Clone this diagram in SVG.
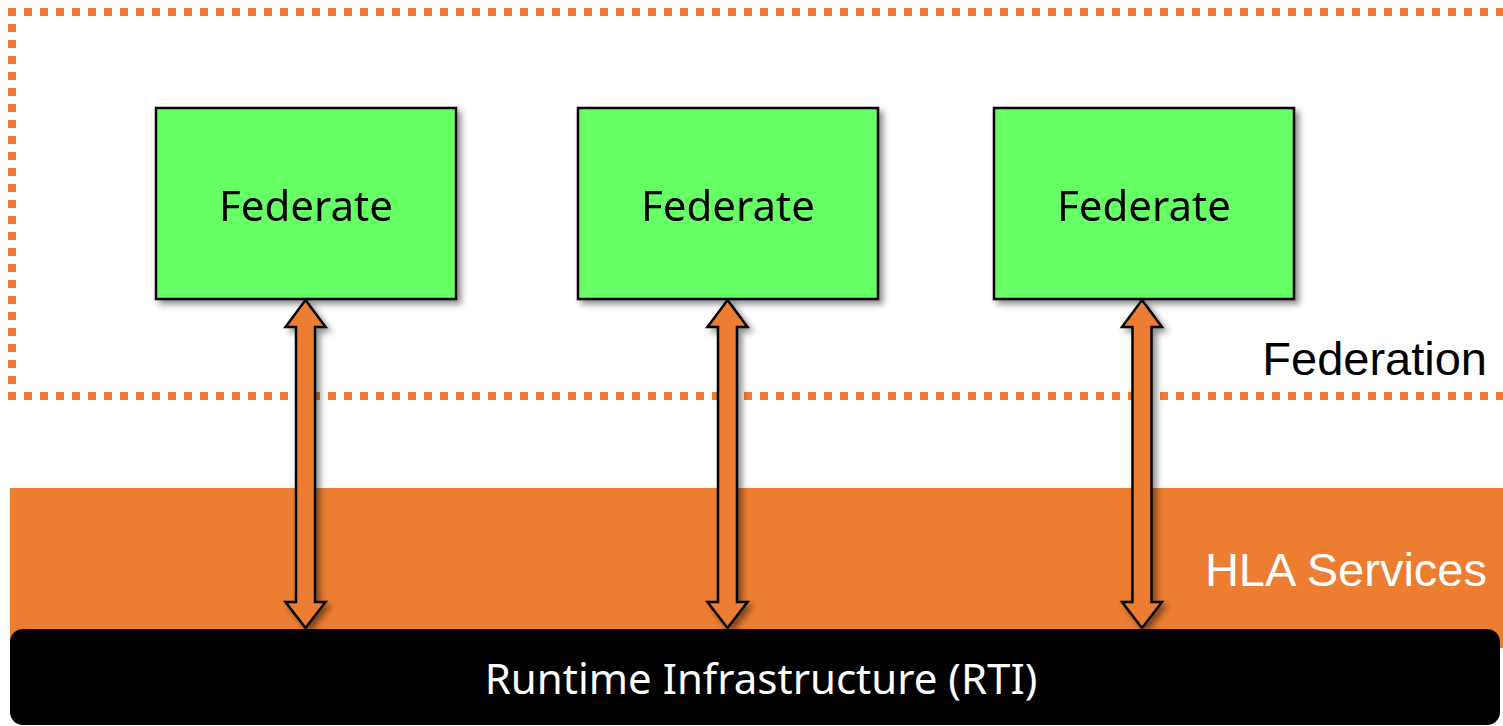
<svg xmlns="http://www.w3.org/2000/svg" width="1503" height="726" viewBox="0 0 1503 726">
  <defs>
    <filter id="shadow" x="-20%" y="-20%" width="160%" height="140%">
      <feDropShadow dx="4" dy="4" stdDeviation="3" flood-color="#000" flood-opacity="0.45"/>
    </filter>
    <style>
      .federate { fill: #66FF66; stroke: #000; stroke-width: 2.5; }
      .fed-label { font-family: "Noto Sans", "Open Sans", sans-serif; font-size: 42px; fill: #000; text-anchor: middle; }
      .arrow { fill: #ED7D31; stroke: #000; stroke-width: 2.5; stroke-linejoin: miter; }
      .boundary { fill: none; stroke: #ED7D31; stroke-width: 8; stroke-dasharray: 8 8; }
      .layer-label { font-family: "Liberation Sans", Arial, sans-serif; font-size: 47px; text-anchor: end; }
    </style>
  </defs>

  <rect width="1503" height="726" fill="#FFFFFF"/>

  <!-- HLA services layer -->
  <g id="hla-services">
    <rect x="10" y="488" width="1500" height="160" fill="#ED7D31"/>
    <text class="layer-label" x="1487" y="586" fill="#FFFFFF">HLA Services</text>
  </g>

  <!-- Federation boundary -->
  <g id="federation">
    <path class="boundary" d="M 1520 12 L 12 12 L 12 396 L 1520 396"/>
    <text class="layer-label" x="1487" y="375" fill="#000000">Federation</text>
  </g>

  <!-- RTI bar -->
  <g id="rti">
    <rect x="10" y="629" width="1490" height="96" rx="13" ry="13" fill="#000000"/>
    <text x="761" y="694" font-family="Noto Sans, Open Sans, sans-serif" font-size="42" fill="#FFFFFF" text-anchor="middle">Runtime Infrastructure (RTI)</text>
  </g>

  <!-- Federates -->
  <g id="federate-1" filter="url(#shadow)">
    <rect class="federate" x="156" y="108" width="300" height="191"/>
    <text class="fed-label" x="306" y="221">Federate</text>
  </g>
  <g id="federate-2" filter="url(#shadow)">
    <rect class="federate" x="578" y="108" width="300" height="191"/>
    <text class="fed-label" x="728" y="221">Federate</text>
  </g>
  <g id="federate-3" filter="url(#shadow)">
    <rect class="federate" x="994" y="108" width="300" height="191"/>
    <text class="fed-label" x="1144" y="221">Federate</text>
  </g>

  <!-- Connectors: two-way arrows between federates and the RTI -->
  <g id="connectors" filter="url(#shadow)">
    <polygon class="arrow" points="305.5,300 325.5,327 315,327 315,602 325.5,602 305.5,628 285.5,602 296,602 296,327 285.5,327"/>
    <polygon class="arrow" points="727.5,300 747.5,327 737,327 737,602 747.5,602 727.5,628 707.5,602 718,602 718,327 707.5,327"/>
    <polygon class="arrow" points="1142,300 1162,327 1151.5,327 1151.5,602 1162,602 1142,628 1122,602 1132.5,602 1132.5,327 1122,327"/>
  </g>
</svg>
